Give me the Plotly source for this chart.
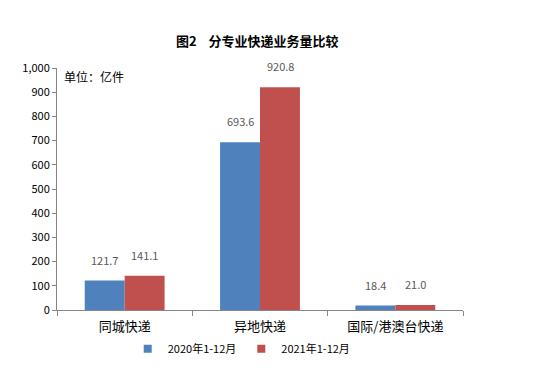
import plotly.graph_objects as go

categories = ["同城快递", "异地快递", "国际/港澳台快递"]
series_names = ["2020年1-12月", "2021年1-12月"]
values_2020 = [121.7, 693.6, 18.4]
values_2021 = [141.1, 920.8, 21.0]
colors = ["#4F81BD", "#C0504D"]

FONT = "Noto Sans CJK SC, Noto Sans, sans-serif"

fig = go.Figure()
for name, vals, col in zip(series_names, [values_2020, values_2021], colors):
    fig.add_trace(go.Bar(x=categories, y=vals, name=name, marker_color=col,
                         marker_line_width=0, showlegend=False))
for name, col in zip(series_names, colors):
    fig.add_trace(go.Scatter(x=[None], y=[None], mode="markers", name=name,
                             marker=dict(symbol="square", size=8, color=col)))

annotations = []
for vals, shift in [(values_2020, -20), (values_2021, 20)]:
    for c, v in zip(categories, vals):
        annotations.append(dict(x=c, y=v, xref="x", yref="y", text=f"{v:.1f}",
                                showarrow=False, xshift=shift, yshift=21,
                                font=dict(family=FONT, size=11, color="#595959")))
annotations.append(dict(x=0.012, y=0.965, xref="paper", yref="paper", text="单位：亿件",
                        showarrow=False, xanchor="left", yanchor="middle",
                        font=dict(family=FONT, size=12, color="#000000")))

fig.update_layout(
    width=536, height=372,
    margin=dict(l=49, r=81, t=60, b=70),
    paper_bgcolor="white", plot_bgcolor="white",
    barmode="group", bargap=0.41, bargroupgap=0,
    title=dict(text="<b>图2    分专业快递业务量比较</b>", x=0.465, xanchor="center",
               y=0.909, yanchor="middle",
               font=dict(family=FONT, size=13, color="#000000")),
    font=dict(family=FONT, size=11, color="#000000"),
    showlegend=True,
    legend=dict(orientation="h", x=0.455, xanchor="center", y=-0.16, yanchor="middle",
                font=dict(family=FONT, size=11, color="#000000"),
                itemwidth=30, traceorder="normal"),
    annotations=annotations,
)
fig.update_xaxes(type="category", showline=True, linecolor="#868686", linewidth=1,
                 ticks="outside", tickson="boundaries", ticklen=5, tickcolor="#868686",
                 ticklabelstandoff=4,
                 tickfont=dict(family=FONT, size=13, color="#000000"), showgrid=False)
fig.update_yaxes(range=[0, 1000], dtick=100, tickformat=",d", showline=True,
                 linecolor="#868686", linewidth=1, ticks="outside", ticklen=4,
                 tickcolor="#868686", showgrid=False, zeroline=False,
                 tickfont=dict(family=FONT, size=11, color="#000000"))

fig.write_html("out.html")
